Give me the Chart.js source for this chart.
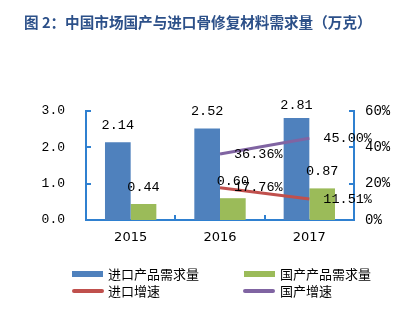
<!DOCTYPE html>
<html>
<head>
<meta charset="utf-8">
<script src="https://cdn.jsdelivr.net/npm/chart.js@4"></script>
<style>
  body { margin: 0; background: #fff; }
  #wrap { position: relative; width: 400px; height: 335px; overflow: hidden; }
  #title { position: absolute; left: 24px; top: 11px; font: bold 14.6px "Noto Sans CJK SC"; color: #2c5089; white-space: nowrap; }
  #legend { position: absolute; left: 0; top: 0; font: 13px "Noto Sans CJK SC"; color: #000; }
  .item { position: absolute; white-space: nowrap; line-height: 16px; }
  .sw { position: absolute; }
  canvas { position: absolute; left: 0; top: 0; }
</style>
</head>
<body>
<div id="wrap">
  <canvas id="c" width="400" height="335"></canvas>
  <div id="title">图 2：中国市场国产与进口骨修复材料需求量（万克）</div>
  <div id="legend"></div>
</div>
<script>
const years = ['2015', '2016', '2017'];
const importDemand = [2.14, 2.52, 2.81];
const domesticDemand = [0.44, 0.60, 0.87];
const importGrowth = [null, 17.76, 11.51];
const domesticGrowth = [null, 36.36, 45.00];

const AXIS = '#2f80d0';
const MONO = '"Liberation Mono"';

const labelPlugin = {
  id: 'valueLabels',
  afterDatasetsDraw(chart) {
    const { ctx, chartArea: { left, right, top, bottom }, scales } = chart;
    ctx.save();
    // inner tick marks
    ctx.strokeStyle = AXIS; ctx.lineWidth = 2;
    [1, 2, 3].forEach(v => {
      const y = Math.round(scales.y.getPixelForValue(v));
      ctx.beginPath(); ctx.moveTo(left, y); ctx.lineTo(left + 5, y); ctx.stroke();
    });
    [20, 40, 60].forEach(v => {
      const y = Math.round(scales.y1.getPixelForValue(v));
      ctx.beginPath(); ctx.moveTo(right - 5, y); ctx.lineTo(right, y); ctx.stroke();
    });
    const step = (right - left) / years.length;
    for (let i = 1; i < years.length; i++) {
      const x = Math.round(left + step * i);
      ctx.beginPath(); ctx.moveTo(x, bottom - 5); ctx.lineTo(x, bottom); ctx.stroke();
    }
    // value labels
    ctx.fillStyle = '#000';
    ctx.font = '13.5px ' + MONO;
    chart.data.datasets.forEach((ds, di) => {
      const meta = chart.getDatasetMeta(di);
      meta.data.forEach((el, i) => {
        const v = ds.data[i];
        if (v == null) return;
        if (ds.type === 'bar') {
          ctx.textAlign = 'center'; ctx.textBaseline = 'middle';
          ctx.fillText(v.toFixed(2), el.x, Math.max(el.y - 17, 105));
        } else {
          ctx.textAlign = 'left'; ctx.textBaseline = 'middle';
          ctx.fillText(v.toFixed(2) + '%', el.x + 14, el.y);
        }
      });
    });
    ctx.restore();
  }
};

const chart = new Chart(document.getElementById('c'), {
  data: {
    labels: years,
    datasets: [
      { type: 'bar', label: '进口产品需求量', data: importDemand, backgroundColor: '#4f81bd', yAxisID: 'y', order: 1,
        categoryPercentage: 0.575, barPercentage: 1.0 },
      { type: 'bar', label: '国产产品需求量', data: domesticDemand, backgroundColor: '#9bbb59', yAxisID: 'y', order: 1,
        categoryPercentage: 0.575, barPercentage: 1.0 },
      { type: 'line', label: '进口增速', data: importGrowth, borderColor: '#c0504d', backgroundColor: '#c0504d', borderWidth: 3,
        pointRadius: 0, yAxisID: 'y1', order: 0 },
      { type: 'line', label: '国产增速', data: domesticGrowth, borderColor: '#8064a2', backgroundColor: '#8064a2', borderWidth: 3,
        pointRadius: 0, yAxisID: 'y1', order: 0 }
    ]
  },
  options: {
    responsive: false,
    devicePixelRatio: 1,
    animation: false,
    layout: { padding: { top: 111, bottom: 85, left: 0, right: 0 } },
    plugins: { legend: { display: false }, tooltip: { enabled: false } },
    scales: {
      x: {
        grid: { display: false, drawTicks: false },
        border: { display: true, color: AXIS, width: 2 },
        ticks: { color: '#000', font: { family: 'DejaVu Sans', size: 13 }, padding: 10 },
        afterFit(s) { s.height = 30; }
      },
      y: {
        position: 'left', min: 0, max: 3,
        grid: { display: false, drawTicks: false },
        border: { display: true, color: AXIS, width: 2 },
        ticks: { stepSize: 1, color: '#000', font: { family: 'Liberation Mono', size: 13 }, padding: 21,
                 callback: v => v.toFixed(1) },
        afterFit(s) { s.width = 86; }
      },
      y1: {
        position: 'right', min: 0, max: 60,
        grid: { display: false, drawTicks: false },
        border: { display: true, color: AXIS, width: 2 },
        ticks: { stepSize: 20, color: '#000', font: { family: 'Liberation Mono', size: 14 }, padding: 11,
                 callback: v => v + '%' },
        afterFit(s) { s.width = 46; }
      }
    }
  },
  plugins: [labelPlugin]
});

// legend in two rows, built from the datasets
const legend = document.getElementById('legend');
const slots = [
  { sx: 72, tx: 108, y: 274 }, { sx: 244, tx: 280, y: 274 },
  { sx: 72, tx: 108, y: 291 }, { sx: 243, tx: 280, y: 291 }
];
chart.data.datasets.forEach((ds, i) => {
  const s = slots[i];
  const sw = document.createElement('div');
  sw.className = 'sw';
  const isBar = ds.type === 'bar';
  const h = isBar ? 6 : 4;
  sw.style.cssText = `left:${s.sx}px;top:${s.y - h / 2}px;width:${isBar ? 31 : 32}px;height:${h}px;background:${ds.backgroundColor};border-radius:${isBar ? 0 : 2}px`;
  legend.appendChild(sw);
  const t = document.createElement('div');
  t.className = 'item';
  t.style.left = s.tx + 'px';
  t.style.top = (s.y - 8) + 'px';
  t.textContent = ds.label;
  legend.appendChild(t);
});
</script>
</body>
</html>
